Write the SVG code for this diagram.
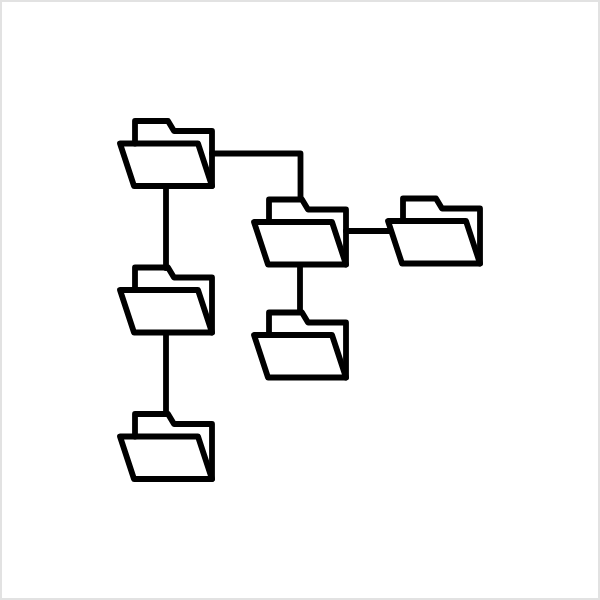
<svg xmlns="http://www.w3.org/2000/svg" width="600" height="600" viewBox="0 0 600 600">
<style>
.l{fill:none;stroke:#000;stroke-width:5.8;stroke-linejoin:round;stroke-linecap:round}
</style>
<defs>
<g id="folder">
<path class="l" d="M15 0V-22.5H48L54 -12.5H92V42.5"/>
<path class="l" d="M0 0H78L92 42.5H14Z"/>
</g>
</defs>
<rect x="1" y="1" width="598" height="598" fill="#fff" stroke="#e2e2e2" stroke-width="2"/>
<g id="connectors">
<path class="l" d="M166 186V268M166 334V414M212 153.500H300.500V199M300 265V312M346 231H390"/>
</g>
<g id="folder-root"><use href="#folder" x="120" y="143.500"/></g>
<g id="folder-child-a"><use href="#folder" x="120" y="290"/></g>
<g id="folder-child-b"><use href="#folder" x="120" y="436.500"/></g>
<g id="folder-branch"><use href="#folder" x="254" y="222"/></g>
<g id="folder-branch-right"><use href="#folder" x="388" y="221"/></g>
<g id="folder-branch-down"><use href="#folder" x="254" y="335"/></g>
</svg>
